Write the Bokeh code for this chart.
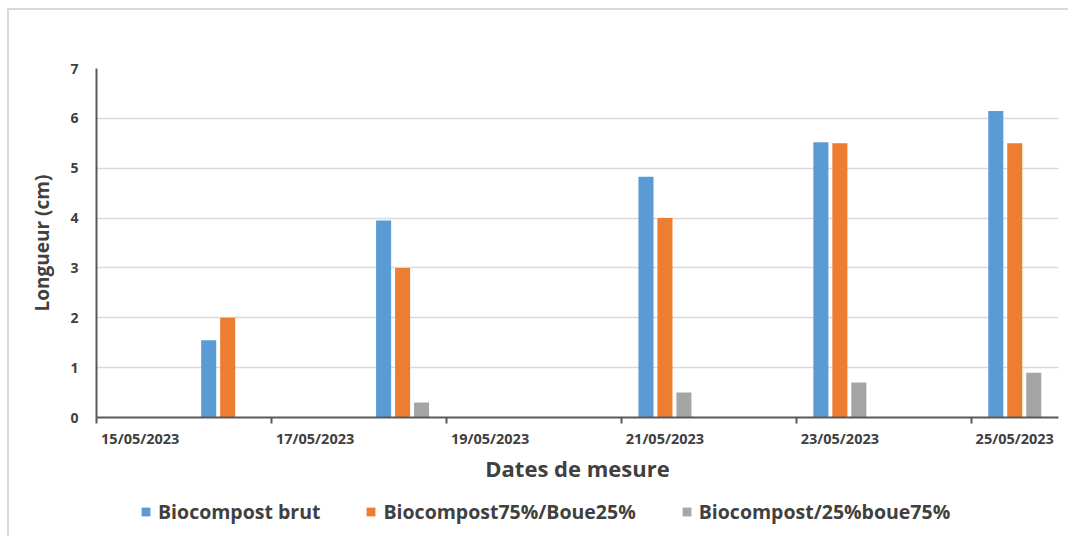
import pandas as pd
from bokeh.plotting import figure
from bokeh.layouts import column
from bokeh.models import (ColumnDataSource, FixedTicker, DatetimeTickFormatter,
                          Legend, LegendItem, Range1d)
from bokeh.embed import file_html
from bokeh.resources import INLINE

# Measurement dates and plant length (cm) for each substrate
dates = ["16/05/2023", "18/05/2023", "21/05/2023", "23/05/2023", "25/05/2023"]
biocompost_brut = [1.55, 3.95, 4.83, 5.52, 6.15]
biocompost75_boue25 = [2.0, 3.0, 4.0, 5.5, 5.5]
biocompost25_boue75 = [None, 0.3, 0.5, 0.7, 0.9]
series_names = ["Biocompost brut", "Biocompost75%/Boue25%", "Biocompost/25%boue75%"]
tick_dates = ["15/05/2023", "17/05/2023", "19/05/2023", "21/05/2023", "23/05/2023", "25/05/2023"]
axis_start, axis_end = "15/05/2023", "26/05/2023"

DAY = 86400000.0
FONT = "Open Sans"
TXT = "#404040"
colors = ["#5B9BD5", "#ED7D31", "#A5A5A5"]


def to_ms(s):
    return pd.Timestamp(pd.to_datetime(s, format="%d/%m/%Y")).value / 1e6


day_ms = [to_ms(d) for d in dates]
offset = 0.217 * DAY
bar_w = 0.172 * DAY

src = ColumnDataSource(dict(
    center=[d + DAY / 2 for d in day_ms],
    brut=biocompost_brut,
    b75=biocompost75_boue25,
    b25=[float("nan") if v is None else v for v in biocompost25_boue75],
))
src.data["x0"] = [c - offset for c in src.data["center"]]
src.data["x2"] = [c + offset for c in src.data["center"]]

W = 1059
LEGEND_H = 40

p = figure(width=W, height=526 - LEGEND_H, x_axis_type="datetime",
           x_range=Range1d(to_ms(axis_start), to_ms(axis_end)),
           y_range=Range1d(0, 7),
           output_backend="svg", toolbar_location=None,
           min_border_left=87, min_border_right=10,
           min_border_top=58, min_border_bottom=119 - LEGEND_H)
p.outline_line_color = None
p.background_fill_color = "white"
p.border_fill_color = "white"

p.vbar(x="x0", top="brut", width=bar_w, source=src, fill_color=colors[0], line_color=None)
p.vbar(x="center", top="b75", width=bar_w, source=src, fill_color=colors[1], line_color=None)
p.vbar(x="x2", top="b25", width=bar_w, source=src, fill_color=colors[2], line_color=None)

# x axis: tick marks on day boundaries, labels centred in the following day
tick_ms = [to_ms(d) for d in tick_dates]
xa = p.xaxis[0]
xa.ticker = FixedTicker(ticks=[t + DAY / 2 for t in tick_ms], minor_ticks=tick_ms)
xa.formatter = DatetimeTickFormatter(days="%d/%m/%Y", hours="%d/%m/%Y",
                                     months="%d/%m/%Y", years="%d/%m/%Y")
xa.major_tick_out = 0
xa.major_tick_in = 0
xa.minor_tick_out = 6
xa.minor_tick_in = 0
xa.minor_tick_line_color = "#595959"
xa.minor_tick_line_width = 2
xa.axis_line_color = "#595959"
xa.axis_line_width = 2
xa.major_label_standoff = 5
xa.major_label_text_font = FONT
xa.major_label_text_font_style = "bold"
xa.major_label_text_font_size = "14.5px"
xa.major_label_text_color = TXT
xa.axis_label = "Dates de mesure"
xa.axis_label_text_font = FONT
xa.axis_label_text_font_style = "bold"
xa.axis_label_text_font_size = "22px"
xa.axis_label_text_color = TXT
xa.axis_label_standoff = 2

ya = p.yaxis[0]
ya.ticker = FixedTicker(ticks=list(range(0, 8)))
ya.major_tick_out = 0
ya.major_tick_in = 0
ya.minor_tick_out = 0
ya.minor_tick_in = 0
ya.axis_line_color = "#595959"
ya.axis_line_width = 2
ya.major_label_standoff = 18
ya.major_label_text_font = FONT
ya.major_label_text_font_style = "bold"
ya.major_label_text_font_size = "14px"
ya.major_label_text_color = TXT
ya.axis_label = "Longueur (cm)"
ya.axis_label_text_font = FONT
ya.axis_label_text_font_style = "bold"
ya.axis_label_text_font_size = "19px"
ya.axis_label_text_color = TXT
ya.axis_label_standoff = 12

p.xgrid.grid_line_color = None
p.ygrid.grid_line_color = "#d9d9d9"
p.ygrid.grid_line_width = 1.5

# Legend strip under the chart: swatch renderers carry the series colours only
lf = figure(width=W, height=LEGEND_H, x_range=Range1d(0, 1), y_range=Range1d(0, 1),
            output_backend="svg", toolbar_location=None,
            min_border=0, outline_line_color=None)
lf.axis.visible = False
lf.grid.visible = False
nothing = ColumnDataSource(dict(x=[float("nan")], top=[float("nan")]))
swatches = [lf.vbar(x="x", top="top", width=0.1, source=nothing,
                    fill_color=c, line_color=None) for c in colors]

legend = Legend(items=[LegendItem(label=n, renderers=[r]) for n, r in zip(series_names, swatches)],
                orientation="horizontal", location=(44, 11),
                padding=0, margin=0, spacing=45,
                glyph_width=11, glyph_height=11, label_standoff=7,
                label_text_font=FONT, label_text_font_style="bold",
                label_text_font_size="19.5px", label_text_color=TXT,
                border_line_color=None, background_fill_alpha=0)
lf.add_layout(legend, "center")

page = column(p, lf, spacing=0,
              styles={"margin-left": "7px", "margin-top": "8px",
                      "border-top": "2px solid #d9d9d9", "border-left": "2px solid #d9d9d9"})

with open("out.html", "w") as f:
    f.write(file_html(page, INLINE))
